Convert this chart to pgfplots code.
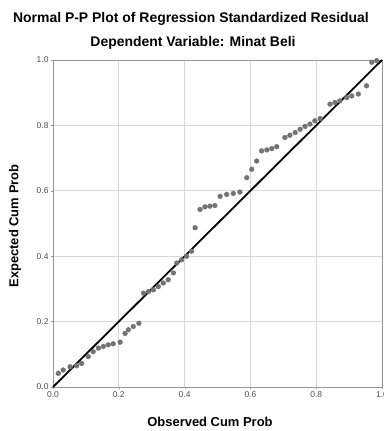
\documentclass[border=0pt]{standalone}
\usepackage{pgfplots}
\pgfplotsset{compat=1.18}
\usepackage{fontspec}
\setmainfont{Liberation Sans}
\definecolor{ptgray}{RGB}{115,115,115}
\definecolor{gridgray}{RGB}{215,215,215}
\definecolor{axgray}{RGB}{150,150,150}
\begin{document}
\begin{tikzpicture}[x=1bp,y=1bp]
\useasboundingbox (0,0) rectangle (384,431);
\begin{axis}[
  at={(53bp,44bp)}, anchor=south west,
  scale only axis, width=329bp, height=327bp,
  xmin=0, xmax=1, ymin=0, ymax=1,
  xtick={0,0.2,0.4,0.6,0.8,1}, ytick={0,0.2,0.4,0.6,0.8,1},
  xtick pos=left, ytick pos=left,
  tick align=outside, major tick length=2.5bp,
  tick style={axgray},
  grid=major, major grid style={gridgray, line width=0.8bp},
  axis line style={axgray, line width=0.7bp},
  /pgf/number format/assume math mode=true,
  /pgf/number format/.cd, fixed, fixed zerofill, precision=1, /pgfplots/.cd,
  tick label style={font=\fontsize{8.5}{9}\selectfont, text=black!70},
  xticklabel style={yshift=1.5bp},
  yticklabel style={xshift=1.5bp},
  clip=false,
]
\addplot[only marks, mark=*, mark size=2.4bp, color=ptgray] coordinates {
(0.016,0.042)(0.031,0.052)(0.052,0.062)(0.072,0.065)(0.087,0.072)
(0.107,0.093)(0.122,0.108)(0.138,0.119)(0.153,0.124)(0.168,0.129)(0.183,0.132)(0.204,0.137)
(0.219,0.164)(0.229,0.175)(0.244,0.185)(0.261,0.195)
(0.275,0.287)(0.290,0.292)(0.305,0.297)(0.320,0.307)(0.335,0.318)(0.350,0.328)
(0.366,0.349)(0.376,0.379)(0.391,0.389)(0.406,0.400)(0.421,0.415)
(0.432,0.487)(0.447,0.543)(0.462,0.551)(0.477,0.553)(0.492,0.555)
(0.508,0.583)(0.528,0.589)(0.548,0.592)(0.568,0.596)
(0.589,0.640)(0.604,0.666)(0.619,0.691)(0.634,0.722)(0.650,0.725)(0.665,0.729)(0.680,0.735)
(0.705,0.763)(0.720,0.770)(0.736,0.778)(0.751,0.788)(0.766,0.797)(0.781,0.804)(0.796,0.814)(0.812,0.821)
(0.842,0.865)(0.857,0.870)(0.872,0.875)(0.893,0.885)(0.908,0.890)(0.928,0.896)
(0.953,0.921)(0.969,0.993)(0.984,0.998)
};
\addplot[black, line width=1.8bp] coordinates {(0,0)(1,1)};
\end{axis}
\node[font=\fontsize{14}{16}\selectfont\bfseries] at (191,412) {Normal P-P Plot of Regression Standardized Residual};
\node[font=\fontsize{14}{16}\selectfont\bfseries] at (193,388) {Dependent Variable: Minat Beli};
\node[font=\fontsize{13}{15}\selectfont\bfseries] at (210,9) {Observed Cum Prob};
\node[font=\fontsize{13}{15}\selectfont\bfseries, rotate=90] at (15,205) {Expected Cum Prob};
\end{tikzpicture}
\end{document}
